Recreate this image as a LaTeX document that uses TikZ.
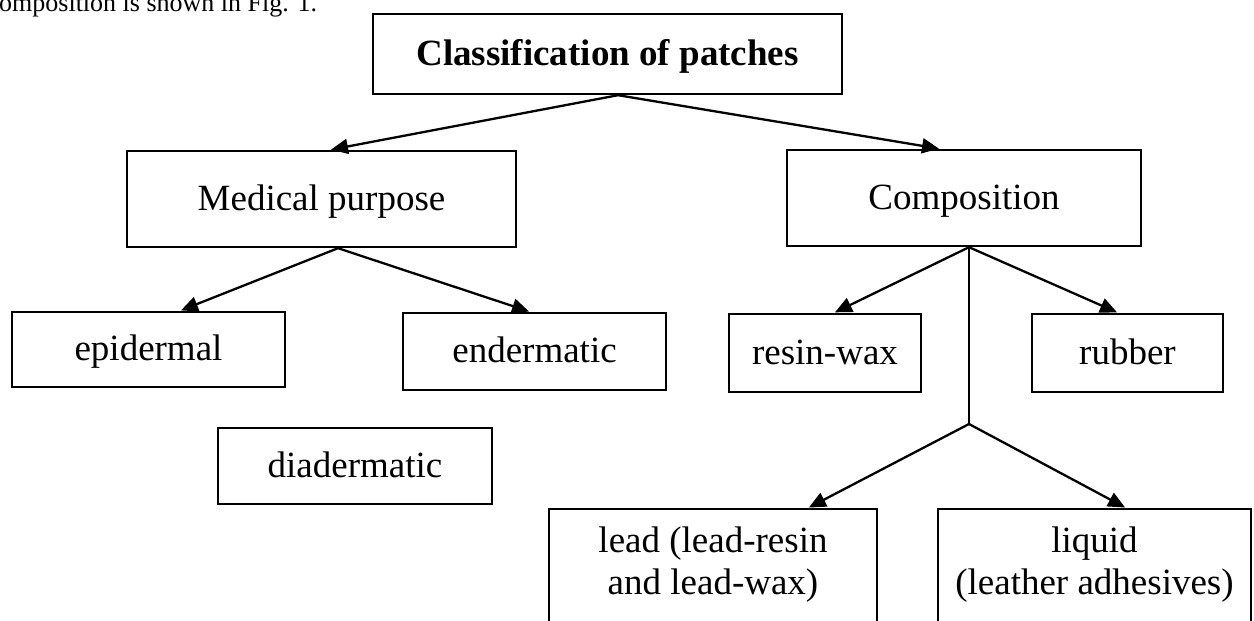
\documentclass[tikz,border=0pt]{standalone}
\usepackage{fontspec}
\setmainfont{Liberation Serif}
\usetikzlibrary{arrows.meta}
\tikzset{
  box/.style={draw, line width=2.4pt, inner sep=0pt, font=\fontsize{37}{42}\selectfont,
    text height=28pt, text depth=6pt},
  conn/.style={line width=2.3pt},
  arr/.style={line width=2.3pt, -{Triangle[length=17pt,width=15pt]}, shorten >=1pt},
  txt/.style={inner sep=0pt, font=\fontsize{37}{42}\selectfont, align=center}
}
\begin{document}
\begin{tikzpicture}[x=1pt, y=-1pt]
\useasboundingbox (0,0) rectangle (1254,621);
\clip (0,0) rectangle (1254,621);
\fill[white] (0,0) rectangle (1254,621);
\node[anchor=base west, inner sep=0pt, font=\fontsize{26}{30}\selectfont] (caption) at (-1,11) {omposition is shown in Fig. 1.};

\node[box, minimum width=469pt, minimum height=80pt, font=\fontsize{37}{42}\selectfont\bfseries] (top) at (607.5,54) {Classification of patches};
\node[box, minimum width=389pt, minimum height=96pt] (med) at (321.5,199) {Medical purpose};
\node[box, minimum width=354pt, minimum height=96pt] (comp) at (964,198) {Composition};
\node[box, minimum width=273pt, minimum height=75pt] (epi) at (148.5,349.5) {epidermal};
\node[box, minimum width=263pt, minimum height=77pt] (end) at (534.5,351.5) {endermatic};
\node[box, minimum width=274pt, minimum height=76pt] (dia) at (355,466) {diadermatic};
\node[box, minimum width=192pt, minimum height=78pt] (resin) at (825,353) {resin-wax};
\node[box, minimum width=191pt, minimum height=78pt] (rub) at (1127.5,353) {rubber};
\node[box, anchor=north, minimum width=328pt, minimum height=160pt, text height=0pt, text depth=0pt] (lead) at (713,508) {};
\node[box, anchor=north, minimum width=313pt, minimum height=160pt, text height=0pt, text depth=0pt] (liq) at (1094.5,508) {};
\node[txt, anchor=north] (leadtext) at ([yshift=-19pt]lead.north) {lead (lead-resin\\and lead-wax)};
\node[txt, anchor=north] (liqtext) at ([yshift=-19pt]liq.north) {liquid\\(leather adhesives)};

\coordinate (fork) at (969,424);

\draw[arr] ([xshift=10.5pt]top.south) -- ([xshift=8.5pt]med.north);
\draw[arr] ([xshift=10.5pt]top.south) -- ([xshift=-24pt]comp.north);
\draw[arr] ([xshift=16.5pt]med.south) -- ([xshift=31.5pt]epi.north);
\draw[arr] ([xshift=16.5pt]med.south) -- ([xshift=-4.5pt]end.north);
\draw[arr] ([xshift=5pt]comp.south) -- ([xshift=9pt]resin.north);
\draw[arr] ([xshift=5pt]comp.south) -- ([xshift=-9.5pt]rub.north);
\draw[conn] ([xshift=5pt]comp.south) -- (fork);
\draw[arr] (fork) -- ([xshift=95pt]lead.north);
\draw[arr] (fork) -- ([xshift=31.5pt]liq.north);
\end{tikzpicture}
\end{document}
